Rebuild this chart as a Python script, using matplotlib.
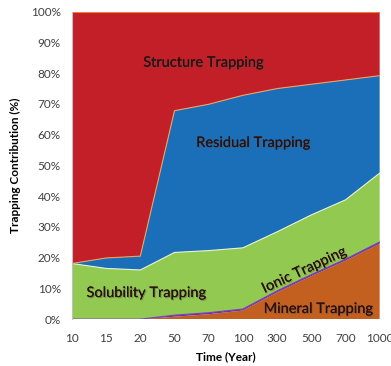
import matplotlib
matplotlib.use("Agg")
import matplotlib.pyplot as plt
import matplotlib.patheffects as pe
import numpy as np

years = ["10", "15", "20", "50", "70", "100", "300", "500", "700", "1000"]
mineral = [0, 0, 0, 0.8, 1.6, 2.8, 8.7, 14.0, 19.0, 24.5]
ionic = [0, 0, 0, 0.5, 0.5, 0.5, 0.5, 0.5, 0.5, 0.6]
solubility = [18.1, 16.5, 16.0, 20.4, 20.2, 19.9, 19.2, 19.4, 19.3, 22.4]
residual = [0, 3.4, 4.5, 46.1, 47.6, 49.6, 46.6, 42.5, 39.0, 31.7]
series = [mineral, ionic, solubility, residual]
structure = list(100 - np.sum(series, axis=0))

names = ["Mineral Trapping", "Ionic Trapping", "Solubility Trapping",
         "Residual Trapping", "Structure Trapping"]
colors = ["#C4601F", "#7030A0", "#92C950", "#1A6FB8", "#C21F28"]
edges = ["#C4601F", "#7A3FB0", "#E8F2DA", "#F0A060", "#F08030"]

plt.rcParams['font.family'] = ['Lato', 'DejaVu Sans']

fig = plt.figure(figsize=(3.91, 3.66), dpi=100)
ax = fig.add_axes([0.184, 0.128, 0.787, 0.84])

x = np.arange(len(years))
data = [mineral, ionic, solubility, residual, structure]
bottom = np.zeros(len(years))
for vals, c in zip(data, colors):
    top = bottom + np.array(vals)
    ax.fill_between(x, bottom, top, facecolor=c, edgecolor='none', linewidth=0)
    bottom = top
# boundary lines
cum = np.zeros(len(years))
for i, (vals, ec) in enumerate(zip(data, edges)):
    cum = cum + np.array(vals)
    if i == 0:
        continue
    ax.plot(x, cum, color=ec, lw=0.8)

ax.set_xlim(0, len(years) - 1)
ax.set_ylim(0, 100)
ax.set_xticks(x)
ax.set_xticklabels(years, fontsize=8.5, color="#404040")
ax.set_yticks(np.arange(0, 101, 10))
ax.set_yticklabels([f"{v}%" for v in range(0, 101, 10)], fontsize=8.5, color="#404040")
ax.tick_params(axis='x', length=0, pad=10)
ax.tick_params(axis='y', length=0, pad=8)
for s in ax.spines.values():
    s.set_visible(False)
ax.spines['left'].set_visible(True)
ax.spines['left'].set_color("#BFBFBF")
ax.spines['left'].set_linewidth(0.8)

ax.set_xlabel("Time (Year)", fontsize=8.5, fontweight='bold', labelpad=5)
ax.set_ylabel("Trapping Contribution (%)", fontsize=8.5, fontweight='bold', labelpad=7)

shadow = [pe.withSimplePatchShadow(offset=(0.8, -0.8), shadow_rgbFace='#555555', alpha=0.5), pe.Normal()]
kw = dict(fontsize=10.5, color="#2A1010", ha='center', va='center', path_effects=shadow)
ax.text(3.86, 83.4, "Structure Trapping", **kw)
ax.text(5.32, 57.3, "Residual Trapping", **kw)
ax.text(2.19, 8.5, "Solubility Trapping", **kw)
ax.text(6.8, 16.0, "Ionic Trapping", rotation=25, **kw)
ax.text(7.22, 3.3, "Mineral Trapping", **kw)

fig.savefig("out.png", dpi=100)
